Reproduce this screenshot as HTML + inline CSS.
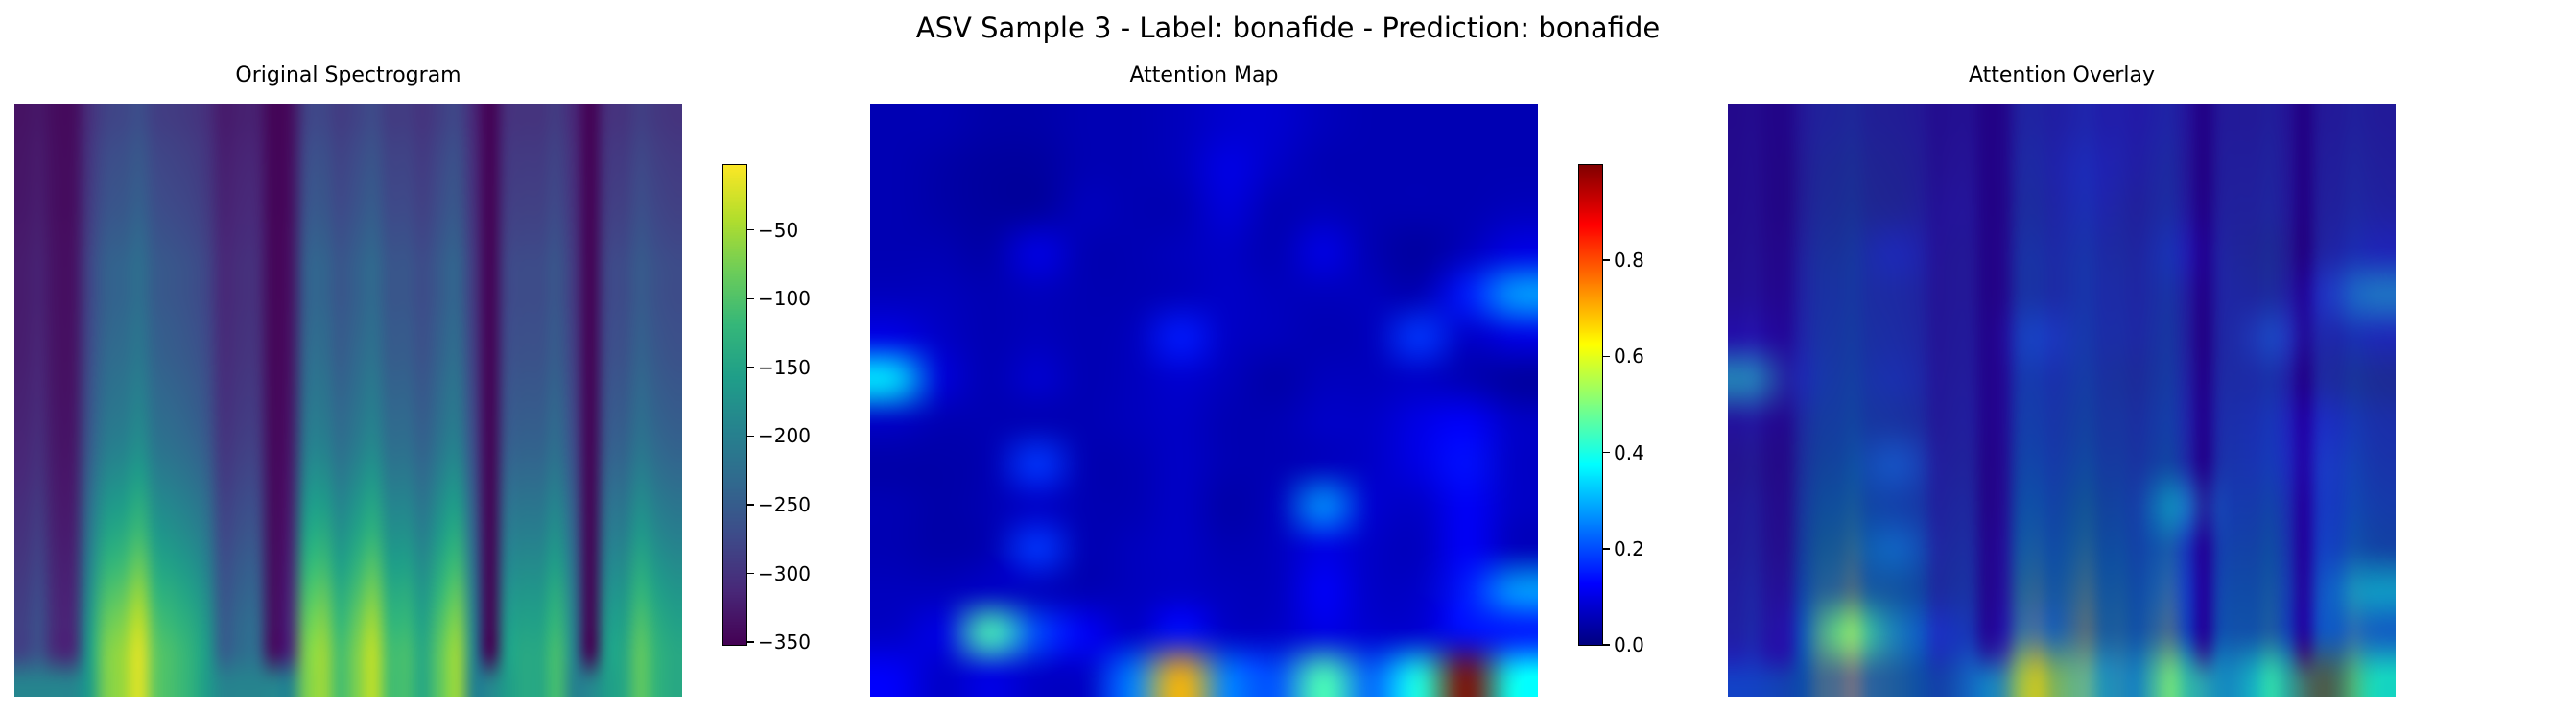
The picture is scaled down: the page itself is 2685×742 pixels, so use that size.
<!DOCTYPE html>
<html><head><meta charset="utf-8">
<style>
html,body{margin:0;padding:0;background:#fff;}
#root{position:relative;width:2685px;height:742px;overflow:hidden;font-family:"DejaVu Sans","Liberation Sans",sans-serif;color:#000;}
canvas{position:absolute;}
.t{position:absolute;white-space:nowrap;}
.tick{position:absolute;height:1.5px;width:7px;background:#000;}
.tl{position:absolute;font-size:20px;line-height:20px;white-space:nowrap;}
.cb{position:absolute;border:1.5px solid #000;box-sizing:border-box;}
</style></head>
<body>
<div id="root">
  <div class="t" style="left:0;width:2685px;text-align:center;top:12px;font-size:29px;">ASV Sample 3 - Label: bonafide - Prediction: bonafide</div>
  <div class="t" style="left:15px;width:696px;text-align:center;top:66px;font-size:22px;">Original Spectrogram</div>
  <div class="t" style="left:907px;width:696px;text-align:center;top:66px;font-size:22px;">Attention Map</div>
  <div class="t" style="left:1801px;width:696px;text-align:center;top:66px;font-size:22px;">Attention Overlay</div>
  <canvas id="c1" width="696" height="618" style="left:15px;top:108px;"></canvas>
  <canvas id="c2" width="696" height="618" style="left:907px;top:108px;"></canvas>
  <canvas id="c3" width="696" height="618" style="left:1801px;top:108px;"></canvas>
  <canvas id="cb1" width="25" height="501" style="left:753px;top:171px;"></canvas>
  <div class="cb" style="left:753px;top:171px;width:26px;height:502px;"></div>
  <canvas id="cb2" width="25" height="501" style="left:1645px;top:171px;"></canvas>
  <div class="cb" style="left:1645px;top:171px;width:26px;height:502px;"></div>
  <div id="ticks1"></div><div id="ticks2"></div>
</div>
<script>
// Spectrogram data: per-column energy, per-row frequency profile (top->bottom)
const specCols = [.2,.25,.12,.12,.55,.8,.85,.95,.75,.7,.65,.55,.3,.35,.35,.04,.12,.8,.85,.7,.8,.9,.7,.7,.6,.75,.85,.45,.0,.55,.6,.6,.7,.45,.0,.55,.6,.75,.65,.6];
const specRows = [.25,.28,.3,.32,.35,.38,.38,.4,.42,.45,.48,.52,.58,.65,.72,.8,.88,.95,1.0,1.0];
const specFloorBottom = 0.45;
const specMin = -352, specMax = -2;
const specTicks = [-50,-100,-150,-200,-250,-300,-350];
// Attention grid 14x14 (rows top->bottom)
const attn = [
[.05,.05,.04,.04,.05,.05,.06,.08,.08,.06,.05,.05,.05,.05],
[.05,.04,.03,.03,.05,.05,.06,.10,.07,.05,.05,.05,.05,.05],
[.05,.04,.03,.03,.06,.05,.05,.09,.05,.06,.05,.05,.05,.06],
[.05,.05,.04,.10,.05,.05,.06,.07,.05,.10,.05,.03,.06,.10],
[.06,.06,.05,.06,.05,.05,.06,.07,.06,.06,.06,.05,.15,.28],
[.10,.07,.05,.06,.05,.06,.15,.07,.06,.05,.06,.18,.07,.10],
[.35,.09,.05,.08,.05,.06,.08,.06,.04,.06,.06,.07,.05,.03],
[.07,.05,.05,.05,.05,.06,.07,.05,.05,.07,.07,.10,.12,.07],
[.04,.04,.05,.18,.05,.05,.07,.05,.05,.06,.07,.10,.14,.07],
[.05,.04,.05,.07,.05,.05,.07,.04,.06,.27,.08,.07,.12,.07],
[.05,.04,.05,.18,.05,.06,.07,.05,.06,.10,.07,.06,.12,.06],
[.06,.06,.07,.06,.05,.06,.07,.06,.06,.12,.07,.07,.15,.28],
[.07,.10,.45,.20,.12,.07,.14,.07,.07,.10,.08,.08,.14,.14],
[.12,.07,.10,.07,.07,.25,.70,.25,.20,.45,.22,.40,1.0,.38]];
const attnTicks = [0.0,0.2,0.4,0.6,0.8];
const attnMin = 0, attnMax = 1;

const vir = [[68,1,84],[72,40,120],[62,74,137],[49,104,142],[38,130,142],[31,158,137],[53,183,121],[109,205,89],[180,222,44],[253,231,37]];
function viridis(t){t=Math.max(0,Math.min(1,t));const p=t*(vir.length-1),i=Math.min(vir.length-2,Math.floor(p)),f=p-i;return vir[i].map((a,k)=>Math.round(a+(vir[i+1][k]-a)*f));}
function jet(t){t=Math.max(0,Math.min(1,t));const c=x=>Math.round(255*Math.max(0,Math.min(1,x)));return [c(1.5-Math.abs(4*t-3)),c(1.5-Math.abs(4*t-2)),c(1.5-Math.abs(4*t-1))];}

function small(w,h,fn){const c=document.createElement('canvas');c.width=w;c.height=h;const x=c.getContext('2d');const d=x.createImageData(w,h);
for(let r=0;r<h;r++)for(let q=0;q<w;q++){const col=fn(r,q);const o=(r*w+q)*4;d.data[o]=col[0];d.data[o+1]=col[1];d.data[o+2]=col[2];d.data[o+3]=255;}x.putImageData(d,0,0);return c;}
function specVal(r,q){let e=Math.min(1,specCols[q]*specRows[r]);if(r===specRows.length-1)e=Math.max(e,specFloorBottom);return specMin+(specMax-specMin)*e;}
const specImg=small(specCols.length,specRows.length,(r,q)=>viridis((specVal(r,q)-specMin)/(specMax-specMin)));
const attnImg=small(attn[0].length,attn.length,(r,q)=>jet((attn[r][q]-attnMin)/(attnMax-attnMin)));
function up(ctx,img){ctx.imageSmoothingEnabled=true;ctx.imageSmoothingQuality='high';ctx.drawImage(img,0,0,img.width,img.height,0,0,696,618);}
up(document.getElementById('c1').getContext('2d'),specImg);
up(document.getElementById('c2').getContext('2d'),attnImg);
const c3=document.getElementById('c3').getContext('2d');up(c3,specImg);c3.globalAlpha=0.5;up(c3,attnImg);c3.globalAlpha=1;

function bar(id,cm){const x=document.getElementById(id).getContext('2d');for(let y=0;y<501;y++){const c=cm(1-y/500);x.fillStyle='rgb('+c+')';x.fillRect(0,y,25,1);}}
bar('cb1',viridis);bar('cb2',jet);
function ticks(id,left,vals,min,max,fmt,name){const root=document.getElementById(id);
vals.forEach(v=>{const y=171+501*(1-(v-min)/(max-min));
const t=document.createElement('div');t.className='tick';t.style.left=(left+26)+'px';t.style.top=(y-0.75)+'px';


root.appendChild(t);
const l=document.createElement('div');l.className='tl';l.style.left=(left+37)+'px';l.style.top=(y-10)+'px';l.textContent=fmt(v);


root.appendChild(l);});}
ticks('ticks1',753,specTicks,specMin,specMax,v=>String(v).replace('-','\u2212'),'spectrogram-colorbar');
ticks('ticks2',1645,attnTicks,attnMin,attnMax,v=>v.toFixed(1),'attention-colorbar');
</script>
</body></html>
